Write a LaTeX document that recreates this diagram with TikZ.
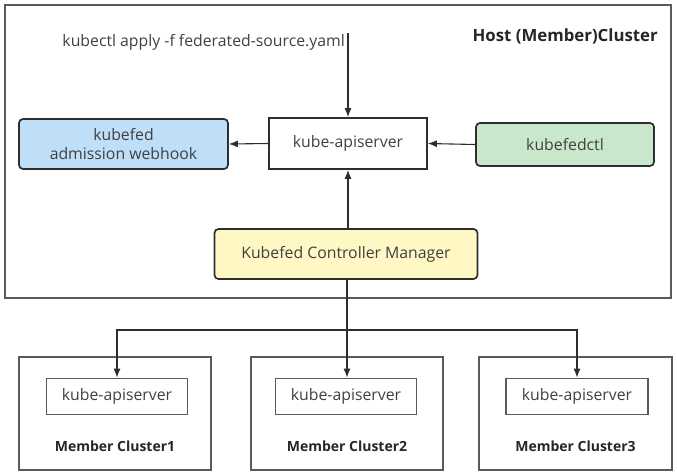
\documentclass[tikz,border=0pt]{standalone}
\usepackage{fontspec}
\setmainfont{Open Sans}
\usetikzlibrary{arrows.meta, positioning}
\definecolor{WebhookBlue}{HTML}{BFDFF9}
\definecolor{CtlGreen}{HTML}{C9E7CA}
\definecolor{MgrYellow}{HTML}{FFF8C5}
\definecolor{LineGray}{HTML}{2E2E2E}
\definecolor{FrameGray}{HTML}{5A5A5A}
\definecolor{TextGray}{HTML}{404040}

\begin{document}
\begin{tikzpicture}[x=1pt, y=-1pt,
    box/.style={draw=LineGray, line width=1.7pt, text=TextGray, align=center, inner sep=0pt, font=\fontsize{15.8}{19}\selectfont},
    comp/.style={box, rounded corners=4pt},
    frame/.style={draw=FrameGray, line width=1.7pt, inner sep=0pt},
    title/.style={text=black!85, inner sep=1pt, font=\bfseries\fontsize{16.8}{19}\selectfont},
    link/.style={draw=LineGray, line width=1.1pt},
    arr/.style={link, -{Latex[length=9pt, width=7pt]}}]
    \useasboundingbox (0,0) rectangle (677,475);
    % Host cluster
    \node[frame, minimum width=666pt, minimum height=293pt] (host) at (338,151.5) {};
    \node[title, anchor=east] (hosttitle) at (659,36) {Host (Member)Cluster};
    % Components
    \node[box, minimum width=158pt, minimum height=51pt] (api) at (348,143.5) {kube-apiserver};
    \node[comp, fill=WebhookBlue, minimum width=209pt, minimum height=50pt] (webhook) at (123.5,144) {kubefed\\admission webhook};
    \node[comp, fill=CtlGreen, minimum width=178pt, minimum height=43pt] (ctl) at (565,144.5) {kubefedctl};
    \node[comp, fill=MgrYellow, minimum width=263pt, minimum height=50pt] (mgr) at (346,254) {Kubefed Controller Manager};
    % Command
    \coordinate (cmdtop) at (348,33);
    \node[anchor=east, text=TextGray, inner sep=1pt, font=\fontsize{15.8}{19}\selectfont] (cmd) at (346,42) {kubectl apply -f federated-source.yaml};
    % Arrows in the host
    \draw[arr] (cmdtop) -- (api.north);
    \draw[arr] (api.west) -- (webhook.east);
    \draw[arr] (ctl.west) -- (api.east);
    \draw[arr] (mgr.north -| cmdtop) -- (api.south -| cmdtop);
    % Member clusters
    \node[frame, minimum width=192pt, minimum height=113pt] (member1) at (115,413.5) {};
    \node[frame, minimum width=192pt, minimum height=113pt] (member2) at (347,413.5) {};
    \node[frame, minimum width=193pt, minimum height=113pt] (member3) at (575.5,413.5) {};
    \node[box, draw=FrameGray, minimum width=141pt, minimum height=36pt] (m1api) at (117,396.5) {kube-apiserver};
    \node[box, draw=FrameGray, minimum width=141pt, minimum height=36pt] (m2api) at (346,396.5) {kube-apiserver};
    \node[box, draw=FrameGray, minimum width=142pt, minimum height=36pt] (m3api) at (577,396.5) {kube-apiserver};
    \node[title, font=\bfseries\fontsize{14}{17}\selectfont] (m1name) at (115,446) {Member Cluster1};
    \node[title, font=\bfseries\fontsize{14}{17}\selectfont] (m2name) at (347,446) {Member Cluster2};
    \node[title, font=\bfseries\fontsize{14}{17}\selectfont] (m3name) at (575.5,446) {Member Cluster3};
    % Fan out to members
    \coordinate (split) at (347,330);
    \draw[link] (mgr.south -| split) -- (split);
    \draw[arr] (split) -- (split |- m2api.north);
    \draw[arr] (split) -| (m1api.north);
    \draw[arr] (split) -| (m3api.north);
\end{tikzpicture}
\end{document}
